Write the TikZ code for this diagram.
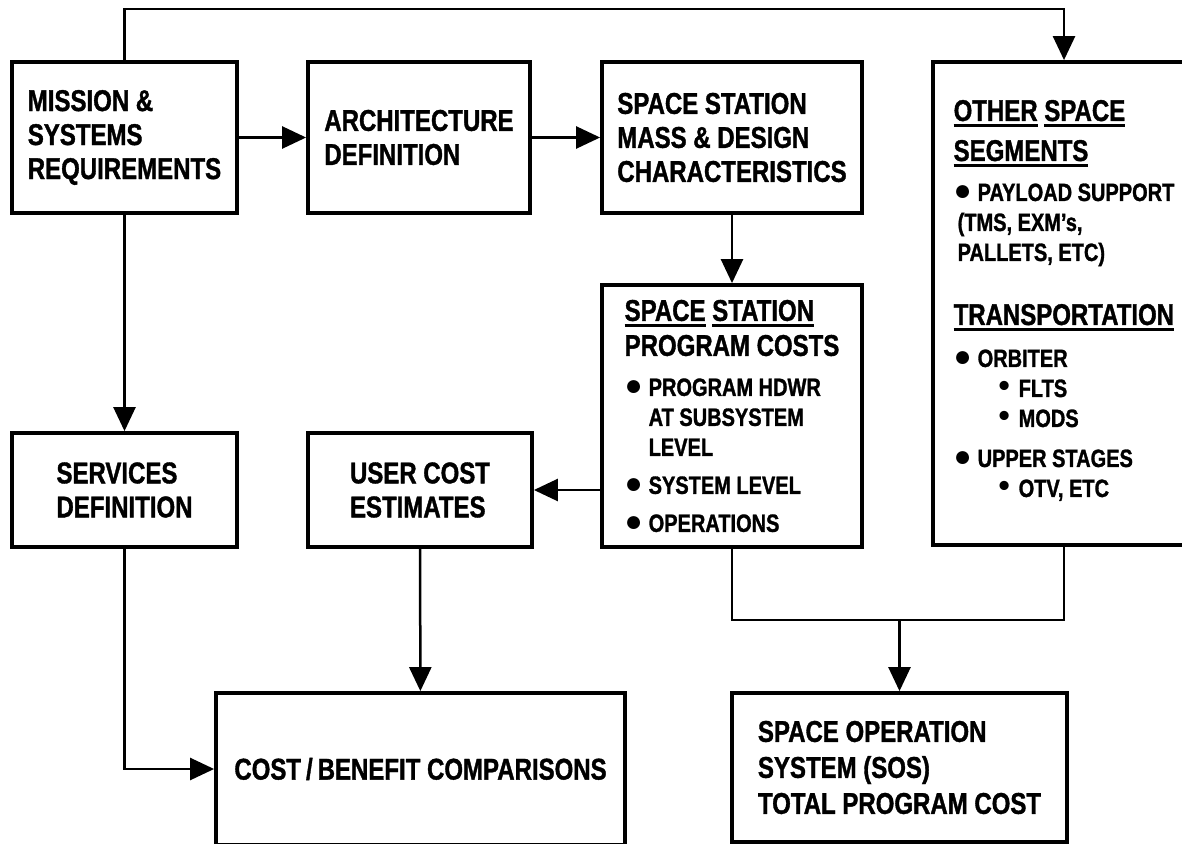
\documentclass[tikz,border=0pt]{standalone}
\usepackage{fontspec}
\setmainfont[FakeStretch=0.8, BoldFeatures={FakeBold=1.2}]{Liberation Sans}
\newfontfamily\bulfont{Liberation Sans}
\usetikzlibrary{arrows.meta}

% caratteri dei blocchi
\newcommand{\headfont}{\fontsize{30}{34}\selectfont\bfseries}
\newcommand{\itemfont}{\fontsize{25}{30}\selectfont\bfseries}
\newcommand{\ulword}[1]{\setbox0=\hbox{#1}\rlap{\rule[-6pt]{\wd0}{2.5pt}}\box0\relax}
\newcommand{\bigbul}{\makebox[24pt][l]{\bulfont\fontsize{30}{30}\selectfont ●}}
\newcommand{\smallbul}{\makebox[20pt][l]{\bulfont\fontsize{32}{30}\selectfont •}}

\tikzset{
	blocco/.style={draw, line width=3.8pt, align=left, inner sep=0pt, font=\headfont},
	lista/.style={blocco, font=\itemfont},
}

\begin{document}
\begin{tikzpicture}[x=1pt, y=-1pt, >={Triangle[length=24pt, width=22pt]}, line width=2.5pt]
				% Definizioni per personalizzare il grafico
				\def\Hsu{151pt}
				\def\Hgiu{114pt}
				
				\fill[white] (0,0) rectangle (1182,843);
				\useasboundingbox (0,0) rectangle (1182,843);
				
				% --- Blocchi in alto ---
				\node[blocco, minimum width=225pt, minimum height=\Hsu] (mission) at (124.5,137.5)
				{MISSION \&\\SYSTEMS\\REQUIREMENTS};
				\node[blocco, minimum width=222pt, minimum height=\Hsu] (arch) at (419,137.5)
				{ARCHITECTURE\\DEFINITION};
				\node[blocco, minimum width=260pt, minimum height=\Hsu] (mass) at (732,137.5)
				{SPACE STATION\\MASS \& DESIGN\\CHARACTERISTICS};
				
				% Altri segmenti (tagliato a destra)
				\node[lista, minimum width=262pt, minimum height=483pt] (oss) at (1064,303.5)
				{{\headfont\ulword{OTHER} \ulword{SPACE}}\\[10pt]
					{\headfont\ulword{SEGMENTS}}\\[10pt]
					\bigbul PAYLOAD SUPPORT\\
					\hspace*{4pt}(TMS, EXM's,\\
					\hspace*{4pt}PALLETS, ETC)\\[34pt]
					{\headfont\ulword{TRANSPORTATION}}\\[12pt]
					\bigbul ORBITER\\
					\hspace*{45pt}\smallbul FLTS\\
					\hspace*{45pt}\smallbul MODS\\[10pt]
					\bigbul UPPER STAGES\\
					\hspace*{45pt}\smallbul OTV, ETC\rule[-10pt]{0pt}{10pt}};
				
				% --- Blocchi al centro ---
				\node[lista, minimum width=260pt, minimum height=262pt] (pc) at (732,416)
				{{\headfont\ulword{SPACE} \ulword{STATION}}\\[5pt]
					{\headfont PROGRAM COSTS}\\[10pt]
					\bigbul PROGRAM HDWR\\
					\hspace*{24pt}AT SUBSYSTEM\\
					\hspace*{24pt}LEVEL\\[8pt]
					\bigbul SYSTEM LEVEL\\[8pt]
					\bigbul OPERATIONS};
				\node[blocco, minimum width=225pt, minimum height=\Hgiu] (services) at (124.5,490)
				{SERVICES\\DEFINITION};
				\node[blocco, minimum width=224pt, minimum height=\Hgiu] (user) at (420,490)
				{USER COST\\ESTIMATES};
				
				% --- Blocchi in basso ---
				\node[blocco, minimum width=409pt, minimum height=152pt] (cb) at (420.5,769)
				{COST\,/\,BENEFIT COMPARISONS};
				\node[blocco, minimum width=335pt, minimum height=149pt] (sos) at (899.5,767.5)
				{SPACE OPERATION\\[2pt]SYSTEM (SOS)\\[2pt]TOTAL PROGRAM COST};
				
				% --- Frecce ---
				\coordinate (topline) at (0,9);
				\coordinate (mergey) at (0,620);
				\coordinate (merge) at (sos.north |- mergey);
				
				\draw[->] (mission.north) -- (mission.north |- topline) -| (oss.north);
				\draw[->] (mission) -- (arch);
				\draw[->] (arch) -- (mass);
				\draw[->] (mass) -- (pc);
				\draw[->] (pc.west |- user.east) -- (user.east);
				\draw[->] (mission) -- (services);
				\draw[->] (services.south) |- (cb.west);
				\draw[->] (user) -- (cb);
				% Somma dei costi
				\draw (pc.south) |- (merge) -| (oss.south);
				\draw[->] (merge) -- (sos.north);
			\end{tikzpicture}
\end{document}
